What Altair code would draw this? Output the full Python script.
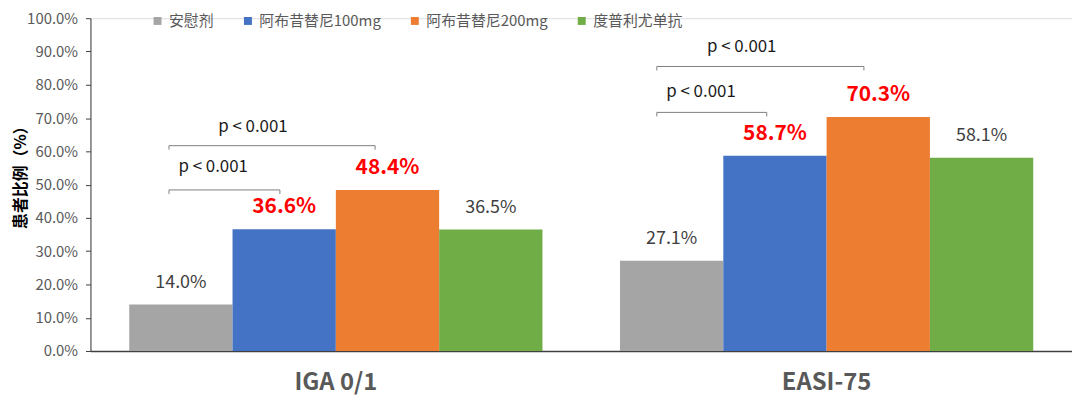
import altair as alt
import pandas as pd

FONT = "Noto Sans CJK SC"

groups = ["IGA 0/1", "EASI-75"]
series = ["安慰剂", "阿布昔替尼100mg", "阿布昔替尼200mg", "度普利尤单抗"]
colors = ["#A5A5A5", "#4472C4", "#ED7D31", "#70AD47"]
iga_values = [0.140, 0.366, 0.484, 0.365]
easi_values = [0.271, 0.587, 0.703, 0.581]
highlight = [False, True, True, False]

# significance brackets: x in group units (0..2), y as fraction
br_x1 = [0.16, 0.16, 1.154, 1.154]
br_x2 = [0.386, 0.58, 1.378, 1.576]
br_y = [0.484, 0.617, 0.717, 0.855]
br_drop = 0.012
p_text = ["p < 0.001", "p < 0.001", "p < 0.001", "p < 0.001"]
p_x = [0.25, 0.331, 1.244, 1.327]
p_y = [0.552, 0.673, 0.779, 0.912]

rows = []
for g, vals in zip(groups, [iga_values, easi_values]):
    for s, v, h in zip(series, vals, highlight):
        rows.append({"group": g, "series": s, "value": v, "hl": h,
                     "label": f"{v * 100:.1f}%"})
bars_df = pd.DataFrame(rows)

segs = []
for a, b, y in zip(br_x1, br_x2, br_y):
    segs.append({"gx": a, "gx2": b, "value": y, "value2": y})
    segs.append({"gx": a, "gx2": a, "value": y, "value2": y - br_drop})
    segs.append({"gx": b, "gx2": b, "value": y, "value2": y - br_drop})
seg_df = pd.DataFrame(segs)
ptxt_df = pd.DataFrame({"gx": p_x, "value": p_y, "t": p_text})

W, H = 988, 335

x_enc = alt.X(
    "group:N", sort=groups,
    scale=alt.Scale(paddingInner=0.158, paddingOuter=0.079),
    axis=alt.Axis(title=None, labelAngle=0),
)
xoff = alt.XOffset("series:N", sort=series)

y_enc = alt.Y(
    "value:Q", scale=alt.Scale(domain=[0, 1], nice=False),
    axis=alt.Axis(format=".1%", tickCount=10, title="患者比例（%）"),
)

bars = alt.Chart(bars_df).mark_bar().encode(
    x=x_enc, xOffset=xoff, y=y_enc,
    color=alt.Color("series:N", sort=series,
                    scale=alt.Scale(domain=series, range=colors),
                    legend=alt.Legend(orient="none", legendX=60, legendY=-5,
                                      direction="horizontal", title=None,
                                      symbolType="square", symbolSize=64,
                                      symbolStrokeWidth=0, labelFontSize=15,
                                      labelColor="#595959", labelFont=FONT,
                                      columnPadding=26)),
)

lab_grey = alt.Chart(bars_df).transform_filter("!datum.hl").mark_text(
    dy=-22, baseline="middle", fontSize=18, color="#404040", font=FONT
).encode(x=x_enc, xOffset=xoff, y=y_enc, text="label:N")

lab_red = alt.Chart(bars_df).transform_filter("datum.hl").mark_text(
    dy=-22, baseline="middle", fontSize=21, fontWeight="bold",
    color="#FF0000", font=FONT
).encode(x=x_enc, xOffset=xoff, y=y_enc, text="label:N")

base = alt.layer(bars, lab_grey, lab_red)

gx_scale = alt.Scale(domain=[0, 2], nice=False, zero=False)
rules = alt.Chart(seg_df).mark_rule(color="#7F7F7F", strokeWidth=1).encode(
    x=alt.X("gx:Q", scale=gx_scale, axis=None), x2="gx2:Q",
    y=y_enc, y2="value2:Q")
ptext = alt.Chart(ptxt_df).mark_text(
    fontSize=17, color="#1A1A1A", baseline="middle", font=FONT
).encode(x=alt.X("gx:Q", scale=gx_scale, axis=None),
         y=y_enc, text="t:N")
ann = alt.layer(rules, ptext)

chart = alt.layer(base, ann).resolve_scale(x="independent").properties(
    width=W, height=H,
    autosize=alt.AutoSizeParams(type="none"),
    padding={"left": 83, "top": 9, "right": 0, "bottom": 45},
).configure_view(stroke=None).configure(font=FONT).configure_axisX(
    labelFontSize=24, labelFontWeight="bold", labelColor="#595959",
    ticks=False, labelBaseline="middle", labelPadding=32,
    domainColor="#404040", domainWidth=1.5,
    labelFont=FONT, grid=False,
).configure_axisY(
    grid=False, titleFontSize=16, titleFontWeight="bold",
    titleColor="#000000", titleAngle=270, titleX=-70, titleY=156,
    titleAlign="center", titleBaseline="middle",
    labelFontSize=15, labelColor="#595959", labelPadding=8,
    tickSize=5, tickColor="#404040", domainColor="#404040",
    labelFont=FONT, titleFont=FONT,
)

chart.save("out.html", embed_options={"renderer": "svg", "actions": False})
